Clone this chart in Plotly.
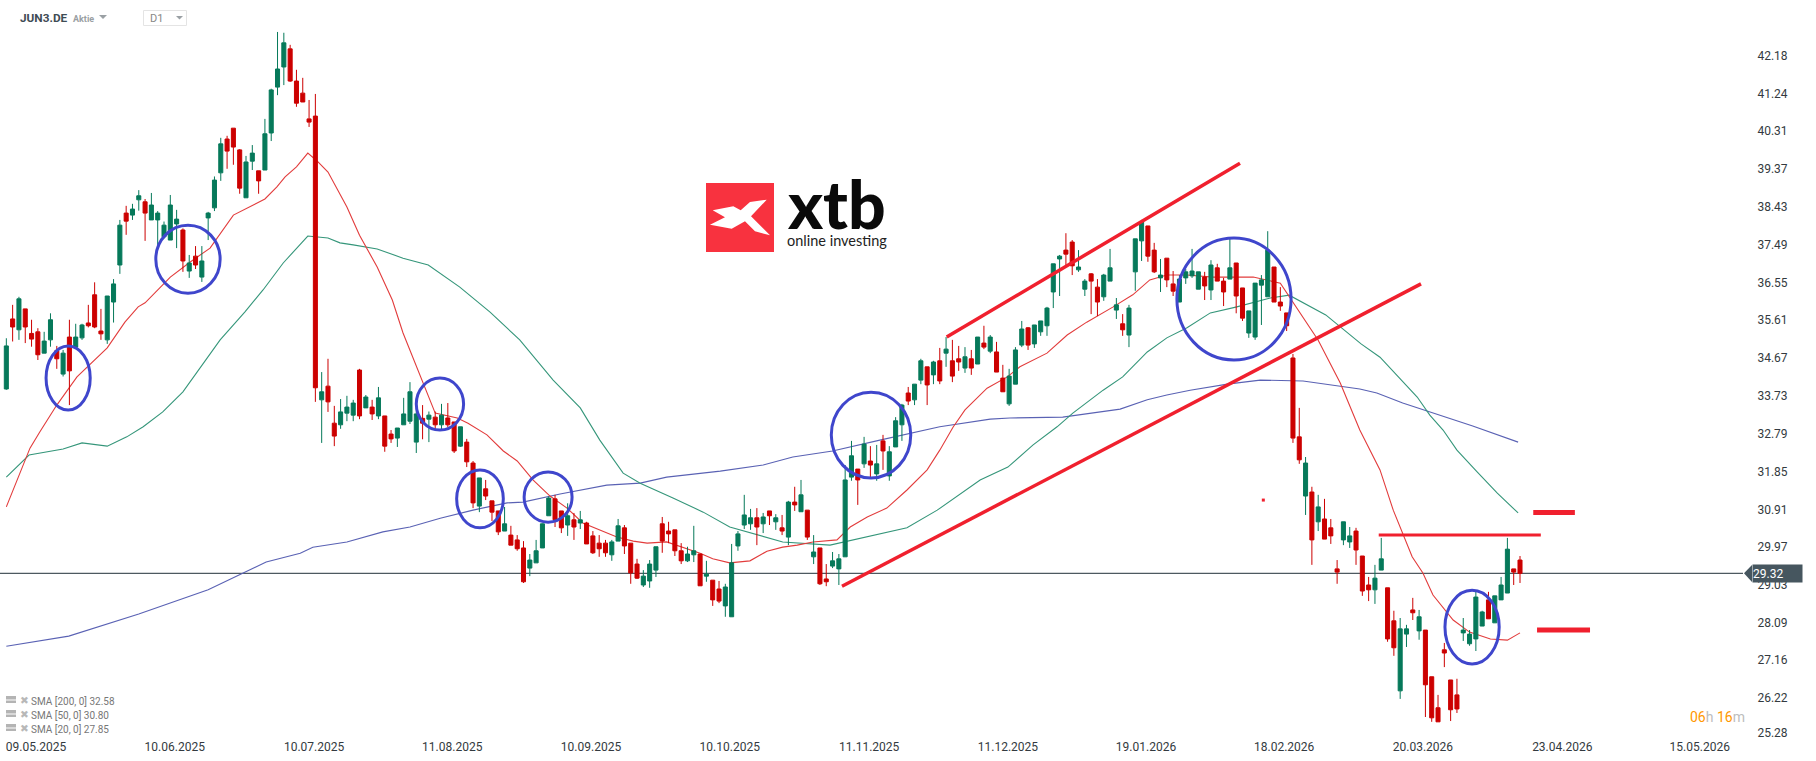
import plotly.graph_objects as go

# ---- candle data (prices) ----
directions = (
    "GRGRRRGGRG" "RGGRRRGGGR" "GGRGGGGGRG" "RGGGGRRRGG" "RGGGGRRRRR"
    "GRRGGGRGRG" "RRGGGGRGRG" "RRGRRGRRRG" "RRRGGGGRRG" "RGRRRRGGRR"
    "RGGGRRRRGG" "RGRRGGGGGR" "GRGRGRGRGR" "RGGGGRGRGR" "GGGRGGRGRG"
    "RRGRGRGRRG" "GGRGGGGGRR" "GGRRGGGRGG" "GRRGRRGGGG" "RGRRGRRGGG"
    "GRRR"
    "RRGRGRRRGG" "RRRGGRRGGR" "GRRRRRRGGG" "GRGGGRR"
)
highs = [
    35.16,35.99,36.19,35.89,35.62,35.41,35.32,35.78,34.97,34.87,
    35.62,35.52,35.52,35.99,36.55,35.89,36.21,36.63,38.10,38.45,
    38.50,38.84,38.62,38.77,38.32,38.06,38.72,38.35,37.89,37.23,
    37.45,37.45,38.30,39.18,40.14,40.19,40.38,39.86,39.69,39.96,
    39.32,40.61,41.36,42.77,42.75,42.45,41.83,41.63,41.08,41.23,
    34.32,34.65,33.48,33.65,33.73,33.63,34.40,33.75,33.63,33.95,
    33.23,32.88,32.93,33.68,34.07,33.42,33.50,33.34,33.34,33.53,
    33.55,33.08,32.96,32.66,32.11,31.69,31.64,31.12,30.87,30.97,
    30.50,30.27,30.12,29.80,30.15,30.56,31.23,31.27,30.87,31.06,
    30.82,30.87,30.60,30.37,30.27,30.15,30.15,30.67,30.52,30.07,
    29.68,29.40,29.65,29.98,30.72,30.60,30.40,30.07,29.98,30.50,
    29.80,29.63,29.15,29.13,29.06,30.05,30.37,31.27,30.92,30.94,
    30.82,30.87,30.79,30.77,31.12,31.47,31.64,30.89,30.27,29.95,
    29.55,29.85,29.80,32.01,32.61,31.91,32.71,32.48,32.51,32.76,
    32.48,33.20,33.53,33.95,34.02,34.65,34.45,34.60,34.92,35.19,
    35.12,34.97,34.94,34.87,35.19,35.47,35.24,35.07,34.50,34.40,
    34.94,35.59,35.44,35.49,35.59,35.94,37.01,37.23,37.77,37.60,
    37.35,36.63,36.78,36.63,36.76,37.38,36.16,35.76,35.99,37.63,
    38.10,37.95,37.53,37.13,37.15,36.83,36.73,36.88,37.38,36.81,
    36.81,37.10,37.01,36.66,37.63,37.03,36.41,35.84,36.53,36.73,
    37.82,36.93,36.43,35.79,
    34.77,33.43,32.21,31.47,31.27,31.17,30.67,29.65,30.60,30.47,
    30.45,29.75,29.23,29.53,30.20,28.96,28.39,28.21,28.04,28.71,
    28.41,27.91,26.75,26.30,27.59,26.67,26.70,28.21,27.91,28.86,
    28.39,28.86,28.76,29.23,30.20,29.43,29.75,
]
body_tops = [
    34.97,35.64,36.14,35.89,35.28,35.32,35.09,35.62,34.85,34.79,
    35.19,35.19,35.49,35.54,36.24,35.34,36.21,36.51,37.97,38.27,
    38.37,38.70,38.55,38.47,38.27,37.97,38.47,38.12,37.85,37.03,
    37.20,37.08,38.27,39.09,39.99,40.11,40.38,39.84,39.54,39.76,
    39.32,40.24,41.33,41.85,42.50,42.35,41.55,41.25,40.61,40.68,
    33.83,33.97,33.05,33.33,33.45,33.55,34.37,33.70,33.45,33.68,
    33.23,32.78,32.93,33.28,33.83,33.28,33.17,33.25,33.20,33.25,
    33.18,33.08,32.96,32.58,32.06,31.69,31.42,31.12,30.87,30.55,
    30.27,30.15,29.95,29.65,29.88,30.55,31.19,31.17,30.87,30.75,
    30.65,30.65,30.57,30.25,30.07,30.07,30.10,30.50,30.45,30.07,
    29.55,29.25,29.55,29.98,30.55,30.37,30.40,29.88,29.80,29.88,
    29.80,29.30,29.15,28.93,28.98,29.58,30.30,30.77,30.70,30.70,
    30.72,30.87,30.70,30.45,31.09,31.09,31.27,30.89,29.85,29.95,
    29.18,29.63,29.68,31.64,32.24,31.91,32.53,32.11,32.04,32.61,
    32.34,33.11,33.50,33.80,34.02,34.60,34.45,34.57,34.60,34.89,
    34.60,34.65,34.70,34.65,35.19,35.04,35.19,34.82,34.17,34.22,
    34.87,35.39,35.42,35.49,35.59,35.91,37.01,37.20,37.35,37.55,
    36.93,36.58,36.76,36.43,36.73,36.91,35.99,35.52,35.91,37.63,
    38.05,37.95,37.35,36.73,37.15,36.51,36.63,36.81,36.83,36.81,
    36.68,36.98,36.91,36.58,36.91,37.03,36.41,35.84,36.53,36.61,
    37.35,36.93,36.06,35.79,
    34.67,32.71,32.06,31.34,30.97,30.67,30.45,29.43,30.60,30.25,
    30.37,29.75,29.03,29.20,29.68,28.96,28.14,27.94,27.94,28.41,
    28.24,27.91,26.75,25.98,27.42,26.67,26.30,27.91,27.81,28.73,
    28.36,28.66,28.76,29.03,29.92,29.43,29.65,
]
body_bottoms = [
    33.90,35.44,35.37,35.44,35.14,34.75,34.79,35.12,34.65,34.27,
    34.35,34.94,35.17,35.47,35.44,35.27,35.12,36.06,36.98,38.07,
    38.22,38.60,38.27,38.10,38.10,37.68,37.60,38.00,37.08,36.83,
    36.98,36.68,38.15,38.40,39.27,39.81,39.91,38.89,38.65,39.56,
    39.07,39.34,40.26,41.40,41.90,41.55,41.00,41.03,40.53,33.93,
    33.63,33.58,32.73,33.01,33.30,33.25,33.23,33.43,33.28,33.23,
    32.48,32.66,32.68,33.01,33.10,32.58,33.05,33.15,33.01,33.01,
    33.01,32.36,32.48,32.09,31.07,30.99,31.24,30.84,30.35,30.37,
    30.02,29.93,29.11,29.45,29.58,29.95,30.75,30.65,30.45,30.52,
    30.47,30.57,30.05,29.83,29.93,29.83,29.78,30.12,30.00,29.33,
    29.20,29.03,29.13,29.40,30.12,30.30,29.88,29.63,29.63,29.78,
    29.01,29.25,28.66,28.63,28.51,28.24,30.00,30.52,30.55,30.47,
    30.55,30.75,30.60,30.37,30.22,31.02,30.85,30.22,29.73,29.06,
    29.11,29.50,29.43,29.73,31.71,31.64,32.04,32.01,31.79,32.36,
    31.74,32.46,33.01,33.60,33.63,34.12,34.00,34.25,34.10,34.79,
    34.22,34.57,34.42,34.42,34.52,34.94,34.84,34.32,33.83,33.53,
    34.02,34.99,34.99,35.02,35.32,35.47,36.31,37.13,37.25,36.96,
    36.86,36.38,36.58,36.06,36.19,36.58,35.86,35.37,35.24,36.81,
    37.58,37.20,36.81,36.66,36.61,36.33,36.06,36.66,36.71,36.38,
    36.46,36.36,36.58,36.31,36.63,36.21,35.66,35.29,35.19,36.48,
    36.19,36.06,35.96,35.47,
    32.68,32.14,31.24,30.15,30.60,30.17,30.25,29.35,30.15,30.10,
    29.90,28.88,28.91,28.91,29.40,27.69,27.47,26.40,27.81,28.34,
    27.89,26.55,25.73,25.63,27.34,25.93,25.95,27.84,27.57,27.69,
    28.01,28.19,28.09,28.66,28.83,29.35,29.32,
]
lows = [
    33.88,35.08,35.12,35.04,34.95,34.62,34.79,34.95,34.40,34.21,
    33.50,34.91,35.12,35.43,35.41,35.12,35.02,35.55,36.76,37.73,
    38.10,38.33,37.58,38.10,37.48,37.64,37.60,37.40,36.81,36.66,
    36.88,36.56,37.60,38.32,39.07,39.37,39.47,38.75,38.65,39.34,
    38.75,39.34,40.06,41.20,41.45,41.53,40.91,41.03,40.41,33.58,
    32.56,33.33,32.48,32.91,33.10,33.10,33.15,33.43,33.13,33.15,
    32.34,32.56,32.46,33.01,33.03,32.31,32.65,32.58,32.88,32.88,
    32.95,32.31,32.46,31.96,30.94,30.84,31.14,30.62,30.27,30.37,
    30.02,29.88,29.08,29.25,29.58,29.95,30.75,30.47,30.32,30.25,
    30.15,30.42,30.05,29.80,29.73,29.73,29.63,30.12,29.80,29.06,
    29.18,28.98,28.96,29.23,29.83,30.07,29.75,29.55,29.60,29.60,
    29.01,29.11,28.51,28.58,28.24,28.24,29.88,30.42,30.40,30.02,
    30.32,30.52,30.40,30.27,30.02,30.87,30.85,30.15,29.55,29.03,
    29.00,29.45,29.03,29.73,31.62,31.02,31.94,31.71,31.62,31.89,
    31.62,32.46,32.61,33.50,33.50,34.02,33.50,34.02,34.02,34.45,
    34.07,34.35,34.30,34.25,34.52,34.89,34.79,34.32,33.83,33.48,
    34.02,34.94,34.87,34.92,35.22,35.22,35.91,36.21,36.96,36.73,
    36.81,36.21,35.76,35.71,36.09,36.58,35.64,35.22,34.94,36.34,
    37.08,37.06,36.78,36.31,36.43,36.21,36.06,36.51,36.66,36.38,
    36.11,36.11,36.58,35.96,36.63,35.78,35.59,35.17,35.12,35.49,
    36.19,36.06,35.84,35.34,
    32.56,32.04,30.77,29.53,30.37,30.17,30.05,29.06,30.02,29.95,
    29.53,28.76,28.63,28.56,29.40,27.62,27.27,26.20,27.49,28.16,
    27.67,25.75,25.63,25.63,26.99,25.65,25.85,27.64,27.52,27.39,
    28.01,28.19,28.09,28.66,28.83,29.03,29.08,
]

# ---- moving averages, read at candle positions ----
sma20_idx = [0,3.75,5.3,8,11.2,13.6,16,18.8,20.9,22,26,29.1,32.3,36,39.7,41,42.9,44.2,46,47.8,49.3,51,54,56,58.8,61.2,62.9,65.9,68,71.5,73.2,76.2,78.8,81,83.5,86.2,88.9,91.4,94.1,96.8,99.4,101.6,104.7,107.3,110,112,114.7,117.9,120.6,123.1,125.4,127.9,131.7,133.8,136.5,139.6,142.8,146,148,150.1,152,155.5,158.7,160.7,165,168.2,171.3,175.5,178.6,181.3,184,187.2,191.3,197.7,202,208,211.5,214.6,217.8,219.9,222.9,224.6,226.2,229.4,232,235.3,238,240]
sma20_val = [30.97,32.43,32.83,33.50,34.20,34.57,34.92,35.56,35.94,36.04,36.68,37.05,37.40,38.22,38.52,38.62,38.92,39.17,39.42,39.76,39.56,39.29,38.42,37.72,36.93,36.11,35.29,34.12,33.30,33.18,33.05,32.76,32.36,32.11,31.64,31.24,30.94,30.57,30.40,30.22,30.12,30.07,30.10,29.97,29.82,29.68,29.58,29.63,29.87,29.97,30.02,30.10,30.15,30.47,30.72,30.94,31.39,31.89,32.38,32.95,33.38,33.92,34.20,34.45,34.79,35.24,35.56,35.94,36.24,36.61,36.73,36.73,36.68,36.68,36.53,35.11,34.05,32.88,31.89,30.89,29.73,29.33,28.78,28.16,27.86,27.69,27.66,27.84]
sma50_idx = [0,3.6,9,12,16,19.1,21.7,24.8,28,31.8,33.9,37.8,40.7,43.9,47.8,51,52.9,55,58.8,62.9,66.9,71.9,76.7,81.4,86.7,91,94.1,97.8,100.5,105.7,110.5,114.7,120.6,123.1,130.6,135.8,142.8,147.6,154.4,158.8,162.8,166.6,169.1,173.9,177,180.9,184,187.2,190.9,195.1,200.4,203.4,209.2,214.8,217.8,223.7,225.7,227.8,230,233.2,236.4,239.7]
sma50_val = [31.71,32.26,32.41,32.56,32.48,32.71,32.96,33.33,33.83,34.67,35.12,35.81,36.36,37.03,37.70,37.65,37.53,37.48,37.38,37.15,36.98,36.43,35.81,35.12,34.12,33.43,32.63,31.81,31.56,31.19,30.84,30.47,30.20,30.10,30.02,30.20,30.45,30.89,31.64,31.96,32.51,32.96,33.30,33.87,34.20,34.82,35.17,35.42,35.79,35.94,36.16,36.23,35.74,35.02,34.69,33.70,33.25,32.88,32.38,31.84,31.31,30.82]
sma200_idx = [0,9.9,21,32,41.2,46.6,48.6,54,59.7,64,68.8,74,79.4,81.9,87.8,95.2,100.5,104.7,113.2,120,124.7,131,138.5,148,156,159.1,167.5,176.6,180.9,184,187.7,193.6,198.8,205.6,214.6,217.3,221.4,225.3,232.5,239.7]
sma200_val = [27.51,27.76,28.31,28.91,29.60,29.82,29.97,30.10,30.35,30.47,30.69,30.89,31.07,31.09,31.29,31.51,31.56,31.71,31.86,32.01,32.21,32.36,32.63,32.96,33.15,33.18,33.20,33.40,33.63,33.75,33.87,34.02,34.12,34.10,33.90,33.80,33.55,33.35,32.98,32.58]

last_price = 29.32
price_ticks = [42.18,41.24,40.31,39.37,38.43,37.49,36.55,35.61,34.67,33.73,32.79,31.85,30.91,29.97,29.03,28.09,27.16,26.22,25.28]
price_tick_pos = [42.18,41.24,40.31,39.37,38.43,37.49,36.55,35.61,34.67,33.73,32.79,31.85,30.91,29.97,29.03,28.09,27.16,26.22,25.35]
date_labels = ["09.05.2025","10.06.2025","10.07.2025","11.08.2025","10.09.2025","10.10.2025","11.11.2025","11.12.2025","19.01.2026","18.02.2026","20.03.2026","23.04.2026","15.05.2026"]
date_pos = [4.7,26.7,48.8,70.7,92.7,114.7,136.8,158.8,180.7,202.6,224.6,246.7,268.5]
sma_labels = ["SMA [200, 0] 32.58","SMA [50, 0] 30.80","SMA [20, 0] 27.85"]

# hand-drawn analysis: (idx0, price0, idx1, price1, width)
trend_lines = [
    (149.1,35.19,195.6,39.51,3.5),
    (132.5,29.00,224.3,36.51,3.5),
    (217.6,30.27,243.3,30.27,3),
    (242.1,30.83,248.7,30.83,5),
    (242.7,27.91,251.1,27.91,5),
]
circles = [
    (6.3,34.97,13.3,33.38),(23.7,37.97,33.9,36.28),(65.0,34.17,72.5,32.88),
    (71.4,31.89,78.8,30.45),(82.1,31.84,89.7,30.59),(130.8,33.82,143.4,31.69),
    (185.6,37.65,203.7,34.62),(228.1,28.90,236.7,27.07),
]
stray_dot = (199.3, 31.14)

# ---- geometry ----
W, H = 1816, 761
PW, PH = 1743, 738
PX_PER_CANDLE = 6.307
X_RANGE = [-1.004, (PW - 6.33) / PX_PER_CANDLE]
Y_RANGE = [43.564 - PH / 40.25, 43.564]
px = lambda v: v / PW
py = lambda v: 1 - v / PH

GREEN, RED = "#06795a", "#cc0000"
idx = list(range(len(highs)))
opens = [b if d == "G" else t for d, t, b in zip(directions, body_tops, body_bottoms)]
closes = [t if d == "G" else b for d, t, b in zip(directions, body_tops, body_bottoms)]

fig = go.Figure()
fig.add_trace(go.Scatter(x=X_RANGE, y=[last_price, last_price], mode="lines",
                         line=dict(color="#4d5960", width=1.2), hoverinfo="skip", showlegend=False))
for xs, ys, c in [(sma200_idx, sma200_val, "#5a62b4"),
                  (sma50_idx, sma50_val, "#35967a"),
                  (sma20_idx, sma20_val, "#e23c3c")]:
    fig.add_trace(go.Scatter(x=xs, y=ys, mode="lines", line=dict(color=c, width=1.1),
                             hoverinfo="skip", showlegend=False))
fig.add_trace(go.Scatter(x=[stray_dot[0]], y=[stray_dot[1]], mode="markers",
                         marker=dict(symbol="square", size=3, color="#f0202e"),
                         hoverinfo="skip", showlegend=False))
fig.add_trace(go.Candlestick(
    x=idx, open=opens, high=highs, low=lows, close=closes, xaxis="x2", yaxis="y2",
    increasing=dict(line=dict(color=GREEN, width=1), fillcolor=GREEN),
    decreasing=dict(line=dict(color=RED, width=1), fillcolor=RED),
    whiskerwidth=0, showlegend=False, hoverinfo="skip"))

shapes = []
for x0, y0, x1, y1, w in trend_lines:
    shapes.append(dict(type="line", xref="x", yref="y", x0=x0, y0=y0, x1=x1, y1=y1,
                       line=dict(color="#f0202e", width=w)))
for x0, y0, x1, y1 in circles:
    shapes.append(dict(type="circle", xref="x", yref="y", x0=x0, y0=y0, x1=x1, y1=y1,
                       line=dict(color="#3f46cc", width=3)))

def paper_poly(points, fill):
    d = "M " + " L ".join(f"{px(a):.5f},{py(b):.5f}" for a, b in points) + " Z"
    return dict(type="path", xref="paper", yref="paper", path=d, fillcolor=fill, line=dict(width=0))

def paper_rect(x0, y0, x1, y1, fill=None, line=None):
    return dict(type="rect", xref="paper", yref="paper", x0=px(x0), x1=px(x1), y0=py(y0), y1=py(y1),
                fillcolor=fill or "rgba(0,0,0,0)", line=dict(color=line, width=1) if line else dict(width=0))

# price-tag pointer
shapes.append(paper_poly([(1744, 573.3), (1752, 565), (1752, 582)], "#46565f"))
# logo
shapes.append(paper_rect(706, 183, 774, 252, fill="#f8323f"))
shapes.append(paper_poly([(712.7,210.3),(733.3,206.3),(740.7,210.3),(750,202),(766.7,199.7),(751,216.3),
                          (770,235.3),(755,231.3),(745,221.3),(731.7,228.7),(710,224.7),(725,217.3)], "#ffffff"))
# header chrome
shapes.append(paper_poly([(99,15),(107,15),(103,19)], "#9aa0a4"))
shapes.append(paper_rect(143.5, 10.5, 186.5, 25.5, line="#e4e4e4"))
shapes.append(paper_poly([(176,16),(183,16),(179.5,19.5)], "#9aa0a4"))
# legend icons
LEGEND_Y = (701, 715, 729)
for yc in LEGEND_Y:
    shapes.append(paper_rect(6, yc - 5, 16, yc + 2, fill="#b4b4b4"))
    shapes.append(paper_rect(6, yc - 1.5, 16, yc - 0.5, fill="#ffffff"))

def note(x, y, text, size, color, anchor="left", family="Roboto", weight=None, **kw):
    font = dict(family=family, size=size, color=color)
    if weight:
        font["weight"] = weight
    return dict(xref="paper", yref="paper", x=px(x), y=py(y), text=text, showarrow=False,
                xanchor=anchor, yanchor="middle", font=font, **kw)

anns = [
    note(18, 18, "<b>JUN3.DE</b>", 11.8, "#3f4c55"),
    note(71, 19, "<b>Aktie</b>", 9, "#9a9fa3"),
    note(148, 19, "D1", 11, "#888888"),
    note(785, 204, "xtb", 66, "#0a0a0a", family="Lato", weight=900),
    note(785, 241, "online investing", 14.5, "#222222", family="Lato"),
    note(1747, 717, '<span style="color:#ff9800">06</span><span style="color:#bdbdbd">h</span> '
                    '<span style="color:#ff9800">16</span><span style="color:#bdbdbd">m</span>',
         14, "#ff9800", anchor="right"),
    dict(xref="paper", yref="y", x=1, y=last_price, text=f"{last_price:.2f}", showarrow=False,
         xanchor="left", yanchor="middle", xshift=9, width=49, height=17, align="left",
         bgcolor="#46565f", borderpad=0, font=dict(family="Roboto", size=12, color="#ffffff")),
]
for label, yc in zip(sma_labels, LEGEND_Y):
    anns.append(note(18, yc - 1, "✖", 10.5, "#b8b8b8", family="DejaVu Sans"))
    anns.append(note(29, yc, label, 10, "#777777"))

fig.update_layout(
    width=W, height=H, autosize=False,
    margin=dict(l=0, r=W - PW, t=0, b=H - PH, pad=0),
    paper_bgcolor="white", plot_bgcolor="white", boxgap=0.36, boxgroupgap=0,
    font=dict(family="Roboto"), shapes=shapes, annotations=anns,
    xaxis=dict(range=X_RANGE, tickmode="array", tickvals=date_pos, ticktext=date_labels,
               showgrid=False, zeroline=False, showline=False, ticks="",
               tickfont=dict(family="Roboto", size=12, color="#333a40")),
    yaxis=dict(range=Y_RANGE, side="right", tickmode="array", tickvals=price_tick_pos, ticktext=price_ticks,
               showgrid=False, zeroline=False, showline=False, ticks="outside", ticklen=11,
               tickcolor="rgba(0,0,0,0)",
               tickfont=dict(family="Roboto", size=12, color="#333a40")),
    xaxis2=dict(range=X_RANGE, overlaying="x", visible=False, rangeslider=dict(visible=False)),
    yaxis2=dict(range=Y_RANGE, overlaying="y", visible=False, side="right"),
)
fig.write_html("out.html", config=dict(displayModeBar=False),
               post_script="document.body.style.margin='0';document.body.style.overflow='hidden';")
